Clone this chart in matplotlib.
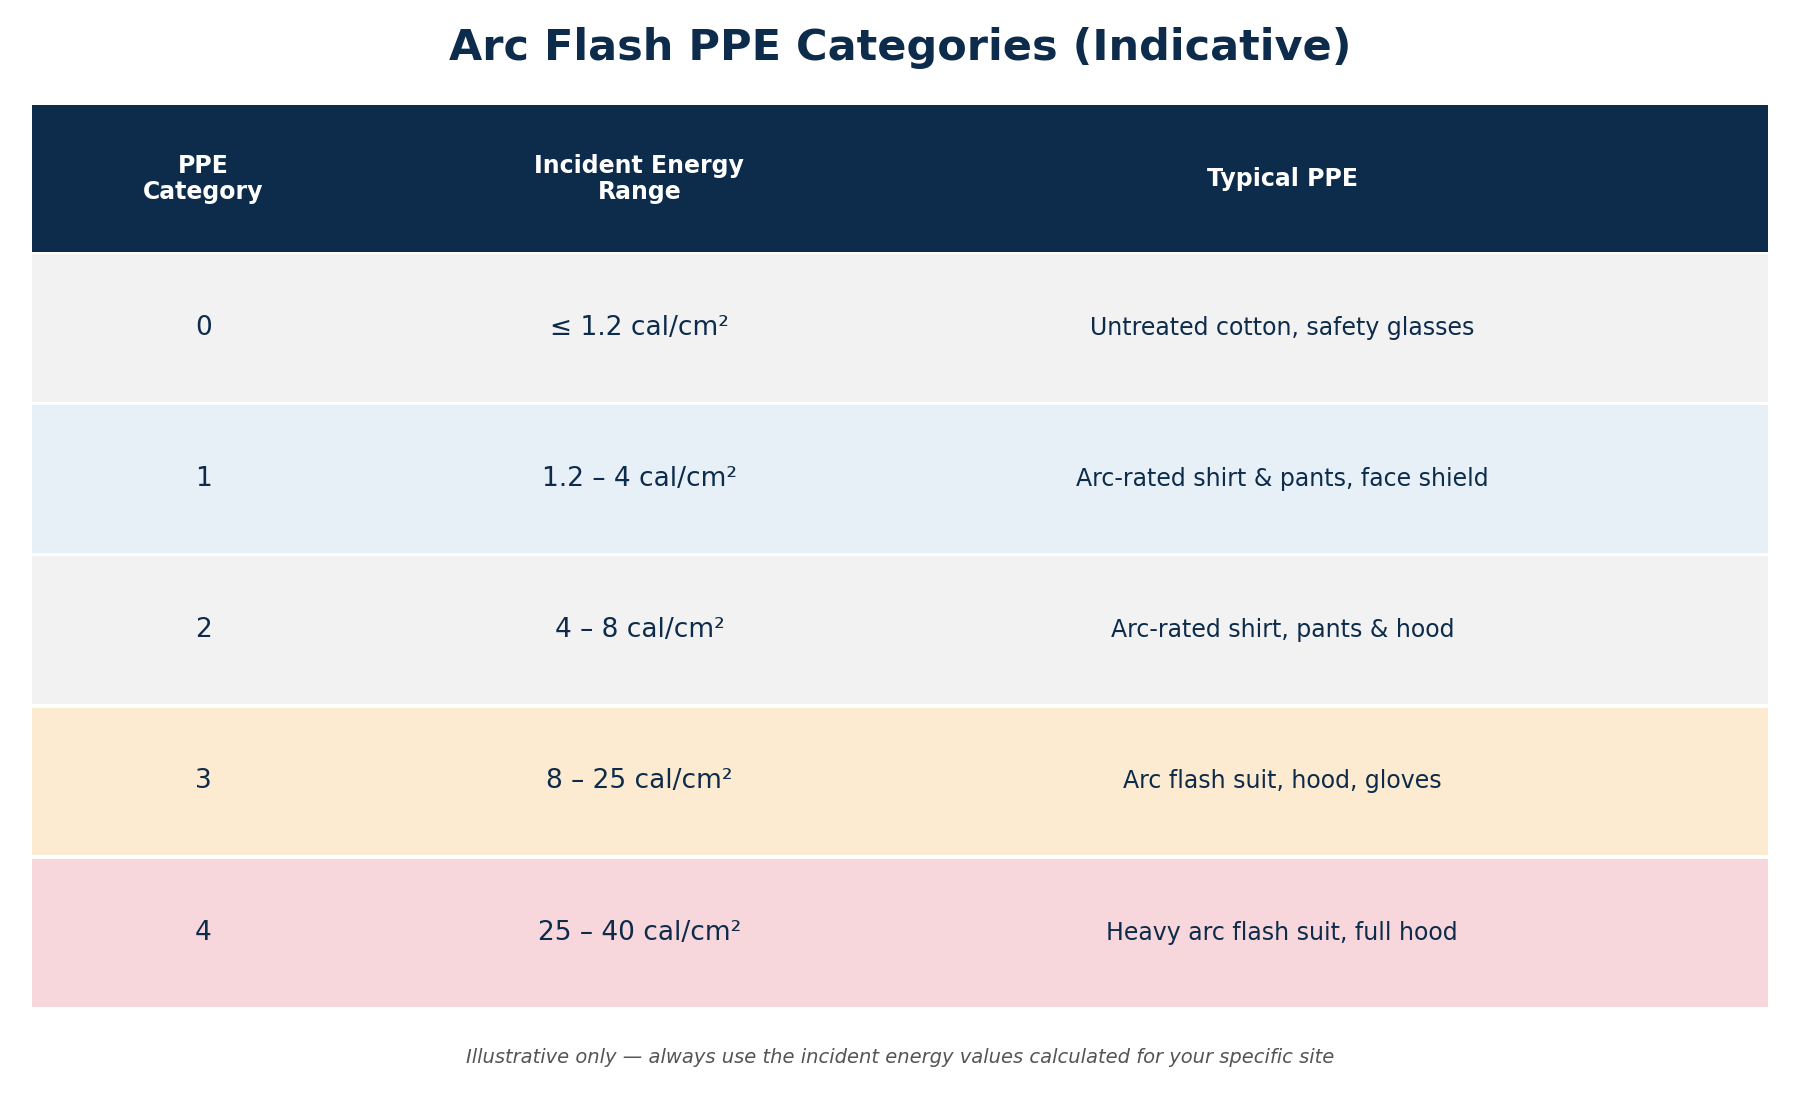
import matplotlib
matplotlib.use("Agg")
import matplotlib.pyplot as plt
from matplotlib.patches import Rectangle

title = "Arc Flash PPE Categories (Indicative)"
headers = ["PPE\nCategory", "Incident Energy\nRange", "Typical PPE"]
categories = ["0", "1", "2", "3", "4"]
energy = ["≤ 1.2 cal/cm²", "1.2 – 4 cal/cm²", "4 – 8 cal/cm²", "8 – 25 cal/cm²", "25 – 40 cal/cm²"]
ppe = ["Untreated cotton, safety glasses", "Arc-rated shirt & pants, face shield",
       "Arc-rated shirt, pants & hood", "Arc flash suit, hood, gloves",
       "Heavy arc flash suit, full hood"]
row_colors = ["#f2f2f2", "#e8f0f7", "#f2f2f2", "#fcebd0", "#f7d7db"]
footer = "Illustrative only — always use the incident energy values calculated for your specific site"

W, H = 1568, 960
fig = plt.figure(figsize=(18, 11), dpi=100)
ax = fig.add_axes([0, 0, 1, 1])
ax.set_xlim(0, W); ax.set_ylim(H, 0); ax.axis("off")
navy = "#0d2b4b"
x0, x1 = 28, 1540
col_x = [177, 557, 1117]
ax.text(W/2, 42, title, ha="center", va="center", fontsize=31, fontweight="bold", color=navy)
ax.add_patch(Rectangle((x0, 92), x1-x0, 128, color=navy, lw=0))
for cx, h in zip(col_x, headers):
    ax.text(cx, 156, h, ha="center", va="center", fontsize=17, fontweight="bold", color="white", linespacing=1.1)
top, rh = 220, 132
for i in range(len(categories)):
    y = top + i*rh
    ax.add_patch(Rectangle((x0, y+1.5), x1-x0, rh-3, color=row_colors[i], lw=0))
    yc = y + rh/2
    ax.text(col_x[0], yc, categories[i], ha="center", va="center", fontsize=19, color=navy)
    ax.text(col_x[1], yc, energy[i], ha="center", va="center", fontsize=19, color=navy)
    ax.text(col_x[2], yc, ppe[i], ha="center", va="center", fontsize=17, color=navy)
ax.text(W/2, 923, footer, ha="center", va="center", fontsize=14, style="italic", color="#555555")
fig.savefig("out.png", dpi=100, facecolor="white")
